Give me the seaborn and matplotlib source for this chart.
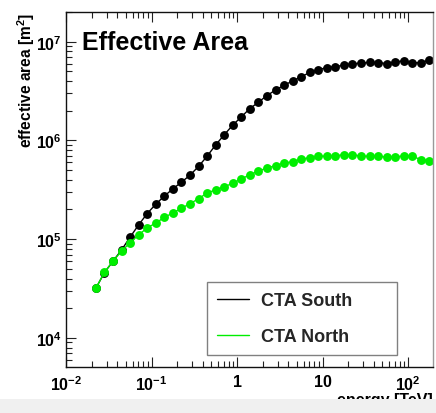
import matplotlib
matplotlib.use("Agg")
import matplotlib.pyplot as plt
import pandas as pd
import seaborn as sns
from matplotlib.lines import Line2D
from matplotlib.patches import Rectangle
from matplotlib.ticker import FixedLocator, FixedFormatter, LogLocator, NullFormatter

# ---------------- data ----------------
energy_tev = [0.0224, 0.0282, 0.0355, 0.0447, 0.0562, 0.0708, 0.0891, 0.112, 0.141, 0.178,
              0.224, 0.282, 0.355, 0.447, 0.562, 0.708, 0.891, 1.12, 1.41, 1.78,
              2.24, 2.82, 3.55, 4.47, 5.62, 7.08, 8.91, 11.2, 14.1, 17.8,
              22.4, 28.2, 35.5, 44.7, 56.2, 70.8, 89.1, 112.0, 141.0, 178.0]

south_area = [3.2e4, 4.6e4, 6.0e4, 7.8e4, 1.05e5, 1.40e5, 1.82e5, 2.26e5, 2.73e5, 3.24e5,
              3.78e5, 4.45e5, 5.46e5, 6.93e5, 9.0e5, 1.14e6, 1.43e6, 1.73e6, 2.10e6, 2.44e6,
              2.85e6, 3.24e6, 3.63e6, 4.00e6, 4.41e6, 4.88e6, 5.20e6, 5.47e6, 5.60e6, 5.78e6,
              6.01e6, 6.05e6, 6.19e6, 6.15e6, 6.01e6, 6.25e6, 6.40e6, 6.11e6, 6.15e6, 6.49e6]

north_area = [3.2e4, 4.64e4, 6.0e4, 7.6e4, 9.2e4, 1.11e5, 1.30e5, 1.46e5, 1.66e5, 1.85e5,
              2.06e5, 2.29e5, 2.57e5, 2.94e5, 3.16e5, 3.39e5, 3.69e5, 4.08e5, 4.48e5, 4.92e5,
              5.24e5, 5.57e5, 5.89e5, 6.11e5, 6.46e5, 6.70e5, 6.93e5, 6.93e5, 7.03e5, 7.14e5,
              7.19e5, 6.93e5, 6.93e5, 6.93e5, 6.78e5, 6.87e5, 6.93e5, 6.93e5, 6.40e5, 6.25e5]

series_names = ["CTA South", "CTA North"]
series_colors = ["#000000", "#00ee00"]

x_tick_values = [0.01, 0.1, 1, 10, 100]
x_tick_labels = [r"$10^{-2}$", r"$10^{-1}$", "1", "10", r"$10^{2}$"]
y_tick_values = [1e4, 1e5, 1e6, 1e7]
y_tick_labels = [r"$10^{4}$", r"$10^{5}$", r"$10^{6}$", r"$10^{7}$"]

title_text = "Effective Area"
y_label = r"effective area [m$^{2}$]"
x_label = "energy [TeV]"

# ---------------- style ----------------
sns.set_theme(style="white")
plt.rcParams["font.family"] = ["Liberation Sans", "DejaVu Sans"]
plt.rcParams["font.weight"] = "bold"
plt.rcParams["mathtext.fontset"] = "custom"
plt.rcParams["mathtext.rm"] = "Liberation Sans:bold"
plt.rcParams["mathtext.bf"] = "Liberation Sans:bold"
plt.rcParams["mathtext.it"] = "Liberation Sans:bold"
plt.rcParams["mathtext.sf"] = "Liberation Sans:bold"
plt.rcParams["axes.unicode_minus"] = True

df = pd.concat([
    pd.DataFrame({"energy": energy_tev, "area": south_area, "series": series_names[0]}),
    pd.DataFrame({"energy": energy_tev, "area": north_area, "series": series_names[1]}),
], ignore_index=True)

fig = plt.figure(figsize=(4.36, 4.14), dpi=100)
fig.patch.set_facecolor("white")
ax = fig.add_axes([66 / 436, 1 - 368 / 414, 367 / 436, 355 / 414])
ax.set_facecolor("white")

sns.lineplot(data=df, x="energy", y="area", hue="series", hue_order=series_names,
             palette=dict(zip(series_names, series_colors)), marker="o",
             markersize=6.4, markeredgewidth=0, linewidth=1.0, sort=False,
             legend=False, ax=ax)

ax.set_xscale("log")
ax.set_yscale("log")
ax.set_xlim(0.01, 196)
ax.set_ylim(5.08e3, 2.0e7)

ax.xaxis.set_major_locator(FixedLocator(x_tick_values))
ax.xaxis.set_major_formatter(FixedFormatter(x_tick_labels))
ax.xaxis.set_minor_locator(LogLocator(base=10, subs=range(2, 10), numticks=50))
ax.xaxis.set_minor_formatter(NullFormatter())
ax.yaxis.set_major_locator(FixedLocator(y_tick_values))
ax.yaxis.set_major_formatter(FixedFormatter(y_tick_labels))
ax.yaxis.set_minor_locator(LogLocator(base=10, subs=range(2, 10), numticks=50))
ax.yaxis.set_minor_formatter(NullFormatter())

ax.tick_params(which="both", direction="in", top=True, bottom=True, left=True, right=False,
               color="#222222", width=0.8, labelsize=11.5, labelcolor="black")
ax.tick_params(which="major", length=7.5)
ax.tick_params(which="minor", length=4.0)
ax.tick_params(axis="x", which="major", pad=5)
ax.tick_params(axis="y", which="major", pad=3)

for side in ["left", "bottom", "top"]:
    ax.spines[side].set_color("#111111")
    ax.spines[side].set_linewidth(1.0)
ax.spines["right"].set_color("#999999")
ax.spines["right"].set_linewidth(1.0)

ax.set_xlabel("")
ax.set_ylabel(y_label, fontsize=11.2, fontweight="bold", loc="top", color="black")
ax.yaxis.set_label_coords(-0.079, 1.0)

ax.text(0.044, 0.896, title_text, transform=ax.transAxes, fontsize=18,
        fontweight="bold", va="baseline", ha="left", color="black")

handles = [Line2D([], [], color=c, lw=1.0) for c in series_colors]
leg = ax.legend(handles, series_names, loc="lower left",
                bbox_to_anchor=(0.384, 0.034, 0.518, 0.228), mode="expand",
                frameon=True, fancybox=False, edgecolor="#808080", framealpha=1,
                fontsize=13, handlelength=1.8, handletextpad=0.65,
                borderpad=0.55, labelspacing=1.05, borderaxespad=0)
leg.get_frame().set_linewidth(1.0)
for t in leg.get_texts():
    t.set_fontweight("bold")

fig.text(433 / 436, 1 - 405 / 414, x_label, ha="right", va="baseline",
         fontsize=11.5, fontweight="bold", color="black", zorder=5)
fig.patches.append(Rectangle((0, 0), 1, 14 / 414, transform=fig.transFigure,
                             facecolor="#f0f0f0", edgecolor="none", zorder=10))

fig.savefig("out.png", dpi=100, facecolor="white")
